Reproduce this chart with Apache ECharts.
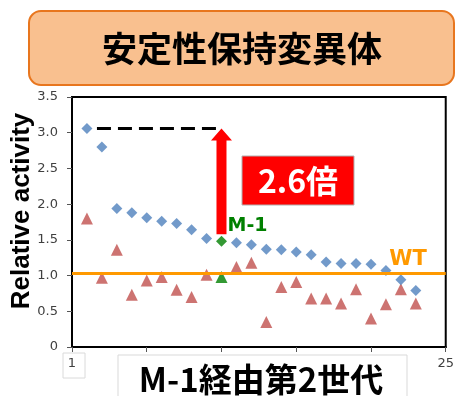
<!DOCTYPE html>
<html>
<head>
<meta charset="utf-8">
<script src="https://cdn.jsdelivr.net/npm/echarts@6/dist/echarts.min.js"></script>
<style>
  html, body { margin: 0; padding: 0; background: #fff; }
  #chart { width: 457px; height: 396px; }
</style>
</head>
<body>
<div id="chart"></div>
<script>
// Second-generation variants derived from M-1 (generation number on x)
const generations = [1, 2, 3, 4, 5, 6, 7, 8, 9, 10, 11, 12, 13, 14, 15, 16, 17, 18, 19, 20, 21, 22, 23];
const diamondValues = [3.06, 2.80, 1.94, 1.88, 1.81, 1.76, 1.73, 1.64, 1.52, 1.48, 1.46, 1.43, 1.37, 1.36, 1.33, 1.29, 1.19, 1.17, 1.17, 1.16, 1.07, 0.94, 0.79];
const triangleValues = [1.80, 0.97, 1.36, 0.73, 0.93, 0.98, 0.80, 0.70, 1.01, 0.98, 1.12, 1.18, 0.35, 0.84, 0.91, 0.68, 0.68, 0.61, 0.81, 0.40, 0.60, 0.81, 0.61];
const m1Generation = 10;
const wtLevel = 1.03;
const xTickLabels = { 0: '1', 25: '25' };
const foldText = '2.6倍';

(function () {
  const BLUE = '#4F81BD', RED = '#C0504D', GREEN = '#008000', ORANGE = '#FF9900';

  function points(values) {
    return generations.map((g, i) => {
      const p = { value: [g, values[i]] };
      if (g === m1Generation) p.itemStyle = { color: GREEN };
      return p;
    });
  }

  const chart = echarts.init(document.getElementById('chart'), null, { renderer: 'canvas' });

  chart.setOption({
    animation: false,
    backgroundColor: '#fff',
    grid: { left: 72, top: 97, right: 7, bottom: 49, show: true, borderColor: '#000', borderWidth: 2 },
    xAxis: {
      type: 'value', min: 0, max: 25, interval: 5,
      splitLine: { show: false },
      axisLine: { lineStyle: { color: '#000', width: 2 } },
      axisTick: { show: true, length: 5, lineStyle: { color: '#555' } },
      axisLabel: {
        margin: 10, color: '#404040', fontSize: 13, fontFamily: 'DejaVu Sans',
        formatter: v => xTickLabels[v] || ''
      }
    },
    yAxis: {
      type: 'value', min: 0, max: 3.5, interval: 0.5,
      splitLine: { show: false },
      axisLine: { show: true, lineStyle: { color: '#000', width: 2 } },
      axisTick: { show: true, length: 5, lineStyle: { color: '#555' } },
      axisLabel: {
        margin: 14, color: '#404040', fontSize: 13, fontFamily: 'DejaVu Sans',
        formatter: v => (v === 0 ? '0' : v.toFixed(1))
      }
    },
    series: [
      {
        name: 'WT', type: 'line', data: [], z: 1,
        markLine: {
          silent: true, symbol: ['none', 'none'], label: { show: false },
          lineStyle: { color: ORANGE, width: 3, type: 'solid' },
          data: [{ yAxis: wtLevel }]
        }
      },
      {
        name: 'triangles', type: 'scatter', symbol: 'triangle', symbolSize: 12, z: 3,
        itemStyle: { color: RED }, data: points(triangleValues)
      },
      {
        name: 'diamonds', type: 'scatter', symbol: 'diamond', symbolSize: 11, z: 4,
        itemStyle: { color: BLUE }, data: points(diamondValues)
      }
    ]
  });

  // Annotations placed from the chart's own scales
  const px = (x, y) => chart.convertToPixel({ gridIndex: 0 }, [x, y]);
  const peak = diamondValues[0];
  const m1Value = diamondValues[generations.indexOf(m1Generation)];
  const firstPt = px(generations[0], peak);
  const peakPt = px(m1Generation, peak);
  const m1Pt = px(m1Generation, m1Value);
  const wtPt = px(25, wtLevel);

  const shaftW = 10, headW = 21, headH = 12;
  const shaftBottom = m1Pt[1] - 7;
  const ax = peakPt[0], ay = peakPt[1];

  chart.setOption({
    graphic: [
      // title banner
      { type: 'rect', shape: { x: 29, y: 11, width: 425, height: 74, r: 12 },
        style: { fill: '#F9C08F', stroke: '#E8761E', lineWidth: 2 } },
      { type: 'text', x: 242, y: 49,
        style: { text: '安定性保持変異体', font: 'bold 35px "Noto Sans CJK JP"', fill: '#000',
                 textAlign: 'center', textVerticalAlign: 'middle' } },
      // y axis title
      { type: 'text', x: 22, y: 211, rotation: Math.PI / 2,
        style: { text: 'Relative activity', font: 'bold 26px "Liberation Sans"', fill: '#000',
                 textAlign: 'center', textVerticalAlign: 'middle' } },
      // x axis title
      { type: 'rect', z: -1, shape: { x: 118, y: 355, width: 289, height: 45 },
        style: { fill: '#fff', stroke: '#D9D9D9', lineWidth: 1 } },
      { type: 'text', x: 261, y: 379,
        style: { text: 'M-1経由第2世代', font: 'bold 33px "Noto Sans CJK JP"', fill: '#000',
                 textAlign: 'center', textVerticalAlign: 'middle' } },
      { type: 'rect', z: -1, shape: { x: 63, y: 353, width: 22, height: 25 },
        style: { fill: '#fff', stroke: '#DADADA', lineWidth: 1 } },
      // dashed level of the best variant
      { type: 'line', shape: { x1: firstPt[0] + 10, y1: ay, x2: ax, y2: ay },
        style: { stroke: '#000', lineWidth: 3, lineDash: [14, 7] } },
      // improvement arrow from M-1
      { type: 'polygon', z: 10,
        shape: { points: [
          [ax - shaftW / 2, shaftBottom], [ax - shaftW / 2, ay + headH],
          [ax - headW / 2, ay + headH], [ax, ay],
          [ax + headW / 2, ay + headH], [ax + shaftW / 2, ay + headH],
          [ax + shaftW / 2, shaftBottom]
        ] },
        style: { fill: '#FF0000' } },
      { type: 'rect', z: 10, shape: { x: 242, y: 156, width: 112, height: 49 },
        style: { fill: '#FF0000', stroke: '#B0B0B0', lineWidth: 1 } },
      { type: 'text', z: 11, x: 298, y: 181,
        style: { text: foldText, font: 'bold 32px "Noto Sans CJK JP"', fill: '#fff',
                 textAlign: 'center', textVerticalAlign: 'middle' } },
      // point labels
      { type: 'text', z: 11, x: m1Pt[0] + 6, y: m1Pt[1] - 15,
        style: { text: 'M-1', font: 'bold 19px "DejaVu Sans"', fill: GREEN,
                 textAlign: 'left', textVerticalAlign: 'middle' } },
      { type: 'text', z: 11, x: wtPt[0] - 19, y: wtPt[1] - 14,
        style: { text: 'WT', font: 'bold 21px "DejaVu Sans"', fill: ORANGE,
                 textAlign: 'right', textVerticalAlign: 'middle' } }
    ]
  });
})();
</script>
</body>
</html>
